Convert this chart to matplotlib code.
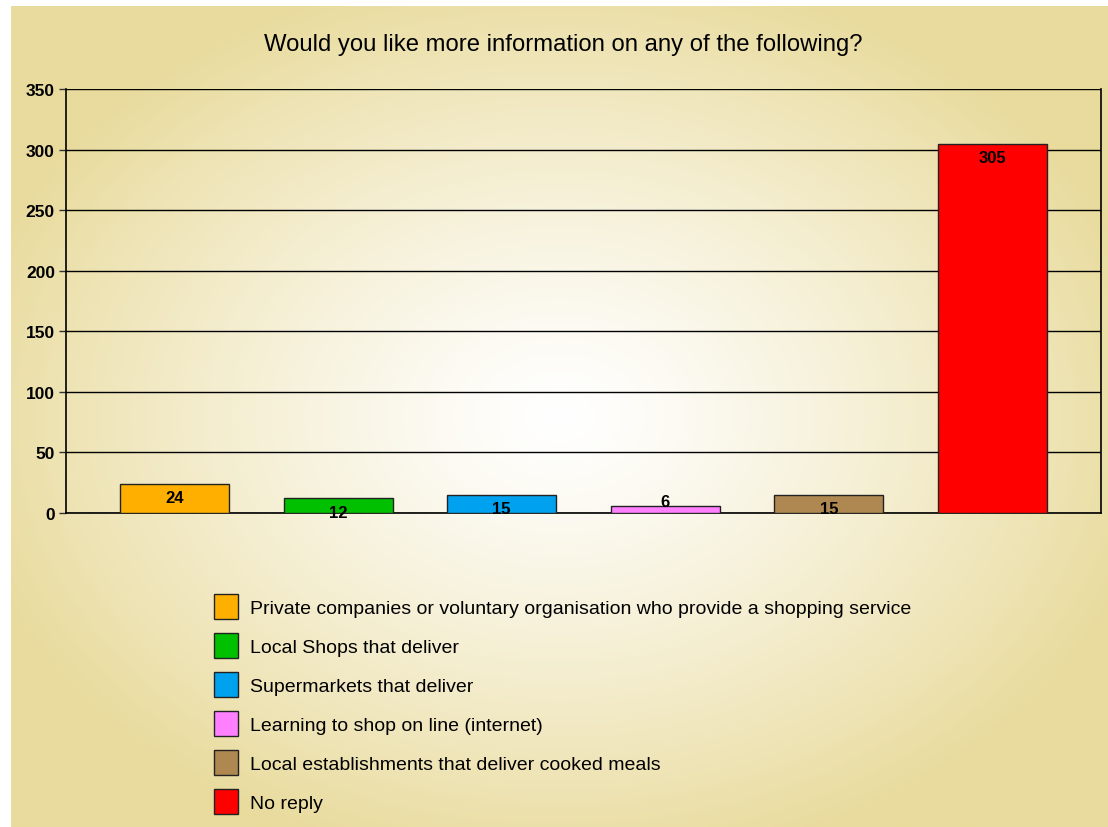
import numpy as np
import matplotlib
matplotlib.use("Agg")
import matplotlib.pyplot as plt
from matplotlib.patches import Patch

plt.rcParams['font.family'] = ['Liberation Sans', 'DejaVu Sans']

title = "Would you like more information on any of the following?"
categories = [
    "Private companies or voluntary organisation who provide a shopping service",
    "Local Shops that deliver",
    "Supermarkets that deliver",
    "Learning to shop on line (internet)",
    "Local establishments that deliver cooked meals",
    "No reply",
]
values = [24, 12, 15, 6, 15, 305]
colors = ["#FFAF00", "#00C000", "#00A2F0", "#FF80FF", "#AE8850", "#FF0000"]
yticks = [0, 50, 100, 150, 200, 250, 300, 350]

W, H = 1108, 828
fig = plt.figure(figsize=(W / 100, H / 100), dpi=100)
fig.patch.set_facecolor("white")

# gradient background panel
bg = fig.add_axes([11 / W, 0, 1 - 11 / W, 1 - 7 / H])
bg.set_axis_off()
nx, ny = 400, 300
xx, yy = np.meshgrid(np.linspace(0, 1, nx), np.linspace(0, 1, ny))
cx, cy = 0.50, 0.50
r = np.sqrt(((xx - cx) / 0.56) ** 2 + ((yy - cy) / 0.56) ** 2)
t = np.clip(r, 0, 1) ** 1.25
gold = np.array([233, 219, 157]) / 255.0
white = np.array([1.0, 1.0, 1.0])
img = white[None, None, :] * (1 - t[..., None]) + gold[None, None, :] * t[..., None]
bg.imshow(img, aspect="auto", extent=[0, 1, 0, 1], interpolation="bilinear")
bg.set_xlim(0, 1)
bg.set_ylim(0, 1)

ax = fig.add_axes([66 / W, 1 - 514 / H, (1101 - 66) / W, (514 - 90) / H])
ax.set_facecolor("none")
x = np.arange(len(values))
bars = ax.bar(x, values, width=0.667, color=colors, edgecolor="#222222", linewidth=1, zorder=3)
ax.set_xlim(-0.665, len(values) - 1 + 0.665)
ax.set_ylim(0, 350)
ax.set_yticks(yticks)
ax.set_yticklabels([str(v) for v in yticks], fontsize=12.5, fontweight="bold")
ax.tick_params(axis="y", length=5, width=1, pad=3, color="#333333")
ax.set_xticks([])
ax.yaxis.grid(True, color="black", linewidth=1, zorder=1)
for s in ["left", "bottom", "right"]:
    ax.spines[s].set_color("black")
    ax.spines[s].set_linewidth(1.2)
ax.spines["top"].set_visible(False)

# value labels
ppu = (514 - 90) / 350.0
for xi, v in zip(x, values):
    hpx = v * ppu
    if hpx < 10:
        off = 4
    else:
        off = -14
    ax.annotate(str(v), (xi, v), xytext=(0, off * 0.72), textcoords="offset points",
                ha="center", va="center", fontsize=12, fontweight="bold", zorder=5)

fig.text(563.5 / W, 1 - 45 / H, title, ha="center", va="center", fontsize=17.2)

handles = [Patch(facecolor=c, edgecolor="#222222", linewidth=1) for c in colors]
leg = fig.legend(handles, categories, loc="upper left", bbox_to_anchor=(214 / W, 1 - 595 / H),
                 frameon=False, fontsize=14, handlelength=1.24, handleheight=1.6,
                 handletextpad=0.62, labelspacing=0.72, borderaxespad=0, borderpad=0)

fig.savefig("out.png", dpi=100)
